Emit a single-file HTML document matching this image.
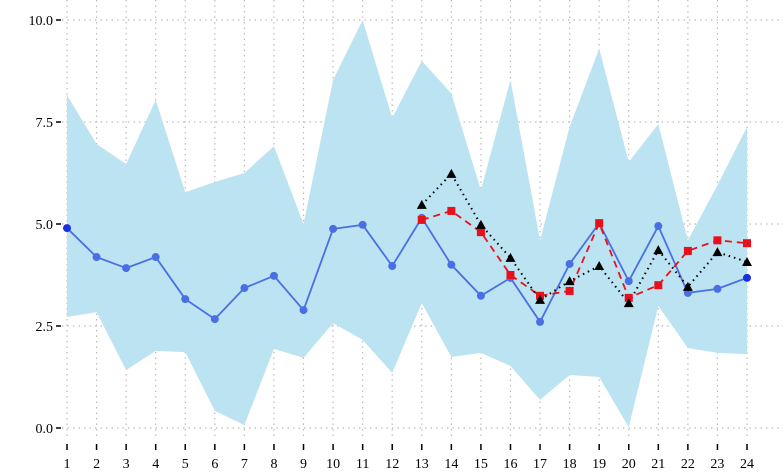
<!DOCTYPE html>
<html><head><meta charset="utf-8"><style>
html,body{margin:0;padding:0;background:#fff}
svg{display:block;font-family:"Liberation Serif",serif}
</style></head><body>
<svg id="chart" width="783" height="474" viewBox="0 0 783 474" xmlns="http://www.w3.org/2000/svg"></svg>
<script>
const categories=[1,2,3,4,5,6,7,8,9,10,11,12,13,14,15,16,17,18,19,20,21,22,23,24];
const upper=[8.16,6.96,6.47,8.04,5.78,6.03,6.25,6.91,5.0,8.53,10.0,7.6,9.0,8.2,5.83,8.53,4.6,7.38,9.3,6.52,7.45,4.6,5.95,7.38];
const lower=[2.72,2.84,1.42,1.89,1.86,0.42,0.07,1.94,1.72,2.57,2.16,1.35,3.06,1.74,1.84,1.52,0.69,1.3,1.25,0.02,2.99,1.96,1.84,1.81];
const observed=[4.9,4.19,3.92,4.19,3.16,2.67,3.43,3.73,2.89,4.88,4.98,3.97,5.15,4.0,3.24,3.68,2.6,4.02,5.02,3.6,4.95,3.31,3.41,3.68];
const forecastCats=[13,14,15,16,17,18,19,20,21,22,23,24];
const redSeries=[5.1,5.32,4.8,3.75,3.24,3.36,5.02,3.19,3.5,4.34,4.6,4.53];
const blackSeries=[5.47,6.23,4.98,4.17,3.14,3.6,3.97,3.06,4.36,3.46,4.31,4.07];
const yTicks=[0,2.5,5,7.5,10];
const yTickLabels=["0.0","2.5","5.0","7.5","10.0"];

const NS="http://www.w3.org/2000/svg";
const svg=document.getElementById('chart');
const x=c=>67+(c-1)*(680/23);
const y=v=>428-v*40.8;
function mk(tag,attrs,parent){const e=document.createElementNS(NS,tag);for(const k in attrs)e.setAttribute(k,attrs[k]);(parent||svg).appendChild(e);return e;}

// grid
yTicks.forEach((t,i)=>{
  const g=mk('line',{x1:62,x2:783,y1:y(t),y2:y(t),stroke:'#bbb','stroke-dasharray':'1.5,4','stroke-width':1.2});
  
  
  const tk=mk('line',{x1:56,x2:61,y1:y(t),y2:y(t),stroke:'#000','stroke-width':1.5});
  
  
  const lb=mk('text',{x:53,y:y(t)+5,'text-anchor':'end','font-size':14});
  lb.textContent=yTickLabels[i];
  
  
});
categories.forEach(c=>{
  const g=mk('line',{x1:x(c),x2:x(c),y1:0,y2:440,stroke:'#bbb','stroke-dasharray':'1.5,4','stroke-width':1.2});
  
  
  const tk=mk('line',{x1:x(c),x2:x(c),y1:444,y2:450,stroke:'#000','stroke-width':1.5});
  
  
  const lb=mk('text',{x:x(c),y:468,'text-anchor':'middle','font-size':14});
  lb.textContent=String(c);
  
  
});
// band
let pts=categories.map((c,i)=>x(c)+','+y(upper[i]));
pts=pts.concat(categories.slice().reverse().map((c,j)=>x(c)+','+y(lower[categories.length-1-j])));
const band=mk('polygon',{points:pts.join(' '),fill:'#bce3f1'});


// observed
const ol=mk('polyline',{points:categories.map((c,i)=>x(c)+','+y(observed[i])).join(' '),fill:'none',stroke:'#4a6fe3','stroke-width':1.8});


categories.forEach((c,i)=>{
  const p=mk('circle',{cx:x(c),cy:y(observed[i]),r:4,fill:(i==0||i==categories.length-1)?'#1a2fe0':'#4a6fe3'});
  
  
});
// red
const rl=mk('polyline',{points:forecastCats.map((c,i)=>x(c)+','+y(redSeries[i])).join(' '),fill:'none',stroke:'#e8101a','stroke-width':1.8,'stroke-dasharray':'7,5'});


// black
const bl=mk('polyline',{points:forecastCats.map((c,i)=>x(c)+','+y(blackSeries[i])).join(' '),fill:'none',stroke:'#000','stroke-width':2,'stroke-dasharray':'1.5,4'});


forecastCats.forEach((c,i)=>{
  const s=mk('rect',{x:x(c)-4,y:y(redSeries[i])-4,width:8,height:8,fill:'#e8101a'});
  
  
  const cx=x(c),cy=y(blackSeries[i]);
  const t=mk('polygon',{points:`${cx},${cy-5} ${cx-5},${cy+4} ${cx+5},${cy+4}`,fill:'#000'});
  
  
});
</script>
</body></html>
